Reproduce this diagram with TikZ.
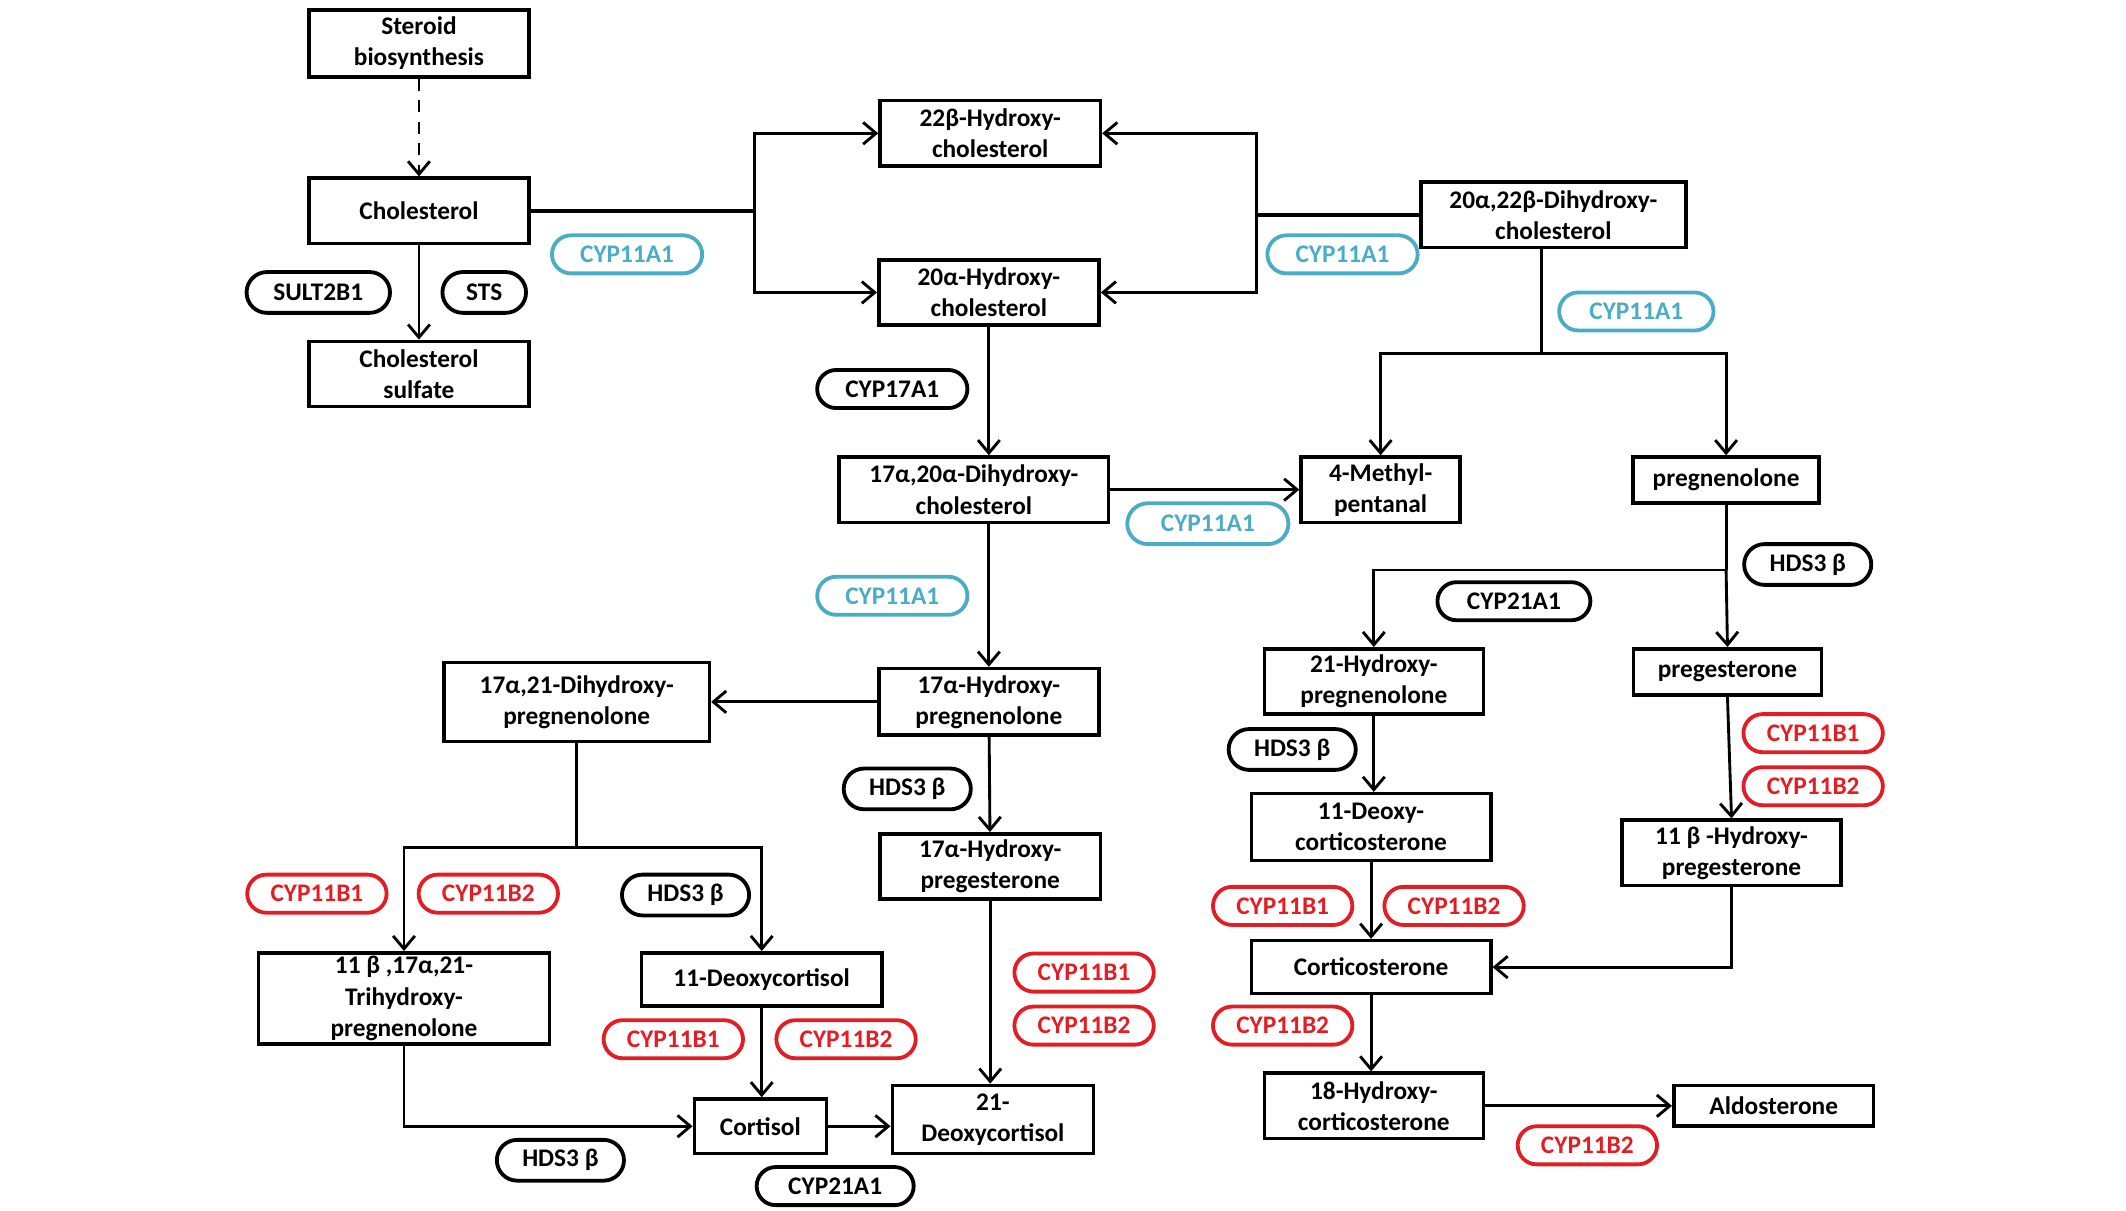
\documentclass[tikz,border=0pt]{standalone}
\usepackage{fontspec}
\setmainfont{Carlito}
\usepackage{xcolor}
\usepackage{tikz}
\usetikzlibrary{arrows.meta,shapes.misc}
\definecolor{cypblue}{RGB}{75,172,198}
\definecolor{cypred}{RGB}{226,30,36}

\begin{document}
\begin{tikzpicture}[x=0.02cm,y=-0.02cm,
    box/.style={draw,line width=1.5pt,align=center,inner sep=1pt,font=\bfseries\fontsize{10.6}{13}\selectfont},
    enz/.style={draw,rounded rectangle,line width=1.6pt,inner sep=1pt,minimum height=0.6cm,minimum width=1.94cm,font=\bfseries\fontsize{10.6}{13}\selectfont},
    cypA/.style={enz,draw=cypblue,text=cypblue,minimum width=2.28cm,minimum height=0.56cm},
    cypB/.style={enz,draw=cypred,text=cypred,minimum width=2.12cm,minimum height=0.56cm},
    conn/.style={line width=1.2pt,-{Straight Barb[length=1.9mm,width=3.2mm]}},
    link/.style={line width=1.2pt}]
    \useasboundingbox (0,0) rectangle (1563,890);

    \node[box,minimum width=3.24cm,minimum height=0.98cm] (sb) at (308,32) {Steroid\\biosynthesis};
    \node[box,minimum width=3.24cm,minimum height=0.96cm] (chol) at (308,155) {Cholesterol};
    \node[box,minimum width=3.24cm,minimum height=0.96cm] (cs) at (308,275) {Cholesterol\\sulfate};
    \node[box,minimum width=3.24cm,minimum height=0.96cm] (h22) at (728,98) {22β-Hydroxy-\\cholesterol};
    \node[box,minimum width=3.24cm,minimum height=0.96cm] (h20) at (727,215) {20α-Hydroxy-\\cholesterol};
    \node[box,minimum width=3.9cm,minimum height=0.96cm] (dh) at (1142,158) {20α,22β-Dihydroxy-\\cholesterol};
    \node[box,minimum width=3.96cm,minimum height=0.96cm] (dhc) at (716,360) {17α,20α-Dihydroxy-\\cholesterol};
    \node[box,minimum width=2.34cm,minimum height=0.96cm] (meth) at (1015,360) {4-Methyl-\\pentanal};
    \node[box,minimum width=2.74cm,minimum height=0.68cm] (preg) at (1269,353) {pregnenolone};
    \node[box,minimum width=3.9cm,minimum height=1.16cm] (dhp) at (424,516) {17α,21-Dihydroxy-\\pregnenolone};
    \node[box,minimum width=3.24cm,minimum height=0.98cm] (hp) at (727,516) {17α-Hydroxy-\\pregnenolone};
    \node[box,minimum width=3.22cm,minimum height=0.96cm] (hpn) at (1010,501) {21-Hydroxy-\\pregnenolone};
    \node[box,minimum width=2.76cm,minimum height=0.68cm] (pgs) at (1270,494) {pregesterone};
    \node[box,minimum width=3.24cm,minimum height=0.96cm] (hpg) at (728,637) {17α-Hydroxy-\\pregesterone};
    \node[box,minimum width=3.52cm,minimum height=0.98cm] (doco) at (1008,608) {11-Deoxy-\\corticosterone};
    \node[box,minimum width=3.22cm,minimum height=0.96cm] (hbp) at (1273,627) {11 β -Hydroxy-\\pregesterone};
    \node[box,minimum width=4.28cm,minimum height=1.34cm] (thp) at (297,734) {11 β ,17α,21-\\Trihydroxy-\\pregnenolone};
    \node[box,minimum width=3.54cm,minimum height=0.78cm] (dcl) at (560,720) {11-Deoxycortisol};
    \node[box,minimum width=3.52cm,minimum height=0.78cm] (cco) at (1008,711) {Corticosterone};
    \node[box,minimum width=1.94cm,minimum height=0.8cm] (cort) at (559,828) {Cortisol};
    \node[box,minimum width=2.96cm,minimum height=1cm] (doc) at (730,823) {21-\\Deoxycortisol};
    \node[box,minimum width=3.22cm,minimum height=0.96cm] (hco) at (1010,813) {18-Hydroxy-\\corticosterone};
    \node[box,minimum width=2.94cm,minimum height=0.6cm] (ald) at (1304,813) {Aldosterone};

    \node[enz,minimum width=2.18cm] (e1) at (234,215) {SULT2B1};
    \node[enz,minimum width=1.3cm] (e2) at (356,215) {STS};
    \node[cypA] (e3) at (461,187) {CYP11A1};
    \node[cypA] (e4) at (987,187) {CYP11A1};
    \node[cypA,minimum width=2.34cm] (e5) at (1203,229) {CYP11A1};
    \node[enz,minimum width=2.28cm,minimum height=0.56cm] (e6) at (656,286) {CYP17A1};
    \node[cypA,minimum width=2.44cm,minimum height=0.6cm] (e7) at (888,385) {CYP11A1};
    \node[cypA] (e8) at (656,438) {CYP11A1};
    \node[enz] (e9) at (1329,415) {HDS3 β};
    \node[enz,minimum width=2.32cm,minimum height=0.56cm] (e10) at (1113,442) {CYP21A1};
    \node[enz] (e11) at (667,580) {HDS3 β};
    \node[enz] (e12) at (950,551) {HDS3 β};
    \node[cypB] (e13) at (1333,539) {CYP11B1};
    \node[cypB] (e14) at (1333,578) {CYP11B2};
    \node[cypB] (e15) at (233,657) {CYP11B1};
    \node[cypB] (e16) at (359,657) {CYP11B2};
    \node[enz] (e17) at (504,658) {HDS3 β};
    \node[cypB] (e18) at (943,666) {CYP11B1};
    \node[cypB] (e19) at (1069,666) {CYP11B2};
    \node[cypB] (e20) at (797,715) {CYP11B1};
    \node[cypB] (e21) at (797,754) {CYP11B2};
    \node[cypB] (e22) at (495,764) {CYP11B1};
    \node[cypB] (e23) at (622,764) {CYP11B2};
    \node[cypB] (e24) at (943,754) {CYP11B2};
    \node[cypB] (e25) at (1167,842) {CYP11B2};
    \node[enz] (e26) at (412,853) {HDS3 β};
    \node[enz,minimum width=2.38cm,minimum height=0.56cm] (e27) at (614,872) {CYP21A1};

    \coordinate (j1) at (555,155);
    \coordinate (j2) at (924,158);
    \coordinate (j3) at (1133,260);
    \coordinate (j4) at (1269,419);
    \coordinate (j5) at (424,623);

    \draw[conn,dash pattern=on 5pt off 4pt] (sb) -- (chol);
    \draw[conn] (chol) -- (cs);
    \draw[link,line width=1.5pt] (chol.east) -- (j1);
    \draw[conn] (j1) |- (h22.west);
    \draw[conn] (j1) |- (h20.west);
    \draw[link,line width=1.7pt] (dh.west) -- (j2);
    \draw[conn] (j2) |- (h22.east);
    \draw[conn] (j2) |- (h20.east);
    \draw[conn] (h20.south) -- (h20.south |- dhc.north);
    \draw[conn] (dhc.east) -- (meth.west);
    \draw[link] (dh.south -| j3) -- (j3);
    \draw[conn] (j3) -| (meth.north);
    \draw[conn] (j3) -| (preg.north);
    \draw[conn] (dhc.south -| hp.north) -- (hp.north);
    \draw[link] (preg.south) -- (j4);
    \draw[conn] (j4) -- (pgs.north);
    \draw[conn] (j4) -| (hpn.north);
    \draw[conn] (hp.west) -- (dhp.east);
    \draw[conn] (hp) -- (hpg);
    \draw[conn] (hpg.south) -- (hpg.south |- doc.north);
    \draw[link] (dhp.south) -- (j5);
    \draw[conn] (j5) -| (thp.north);
    \draw[conn] (j5) -| (dcl.north);
    \draw[conn] (dcl.south) -- (dcl.south |- cort.north);
    \draw[conn] (thp.south) |- (cort.west);
    \draw[conn] (cort.east) -- (cort.east -| doc.west);
    \draw[conn] (hpn.south) -- (hpn.south |- doco.north);
    \draw[conn] (doco) -- (cco);
    \draw[conn] (cco.south) -- (cco.south |- hco.north);
    \draw[conn] (hco) -- (ald);
    \draw[conn] (pgs.south) -- (hbp.north);
    \draw[conn] (hbp.south) |- (cco.east);
\end{tikzpicture}
\end{document}
